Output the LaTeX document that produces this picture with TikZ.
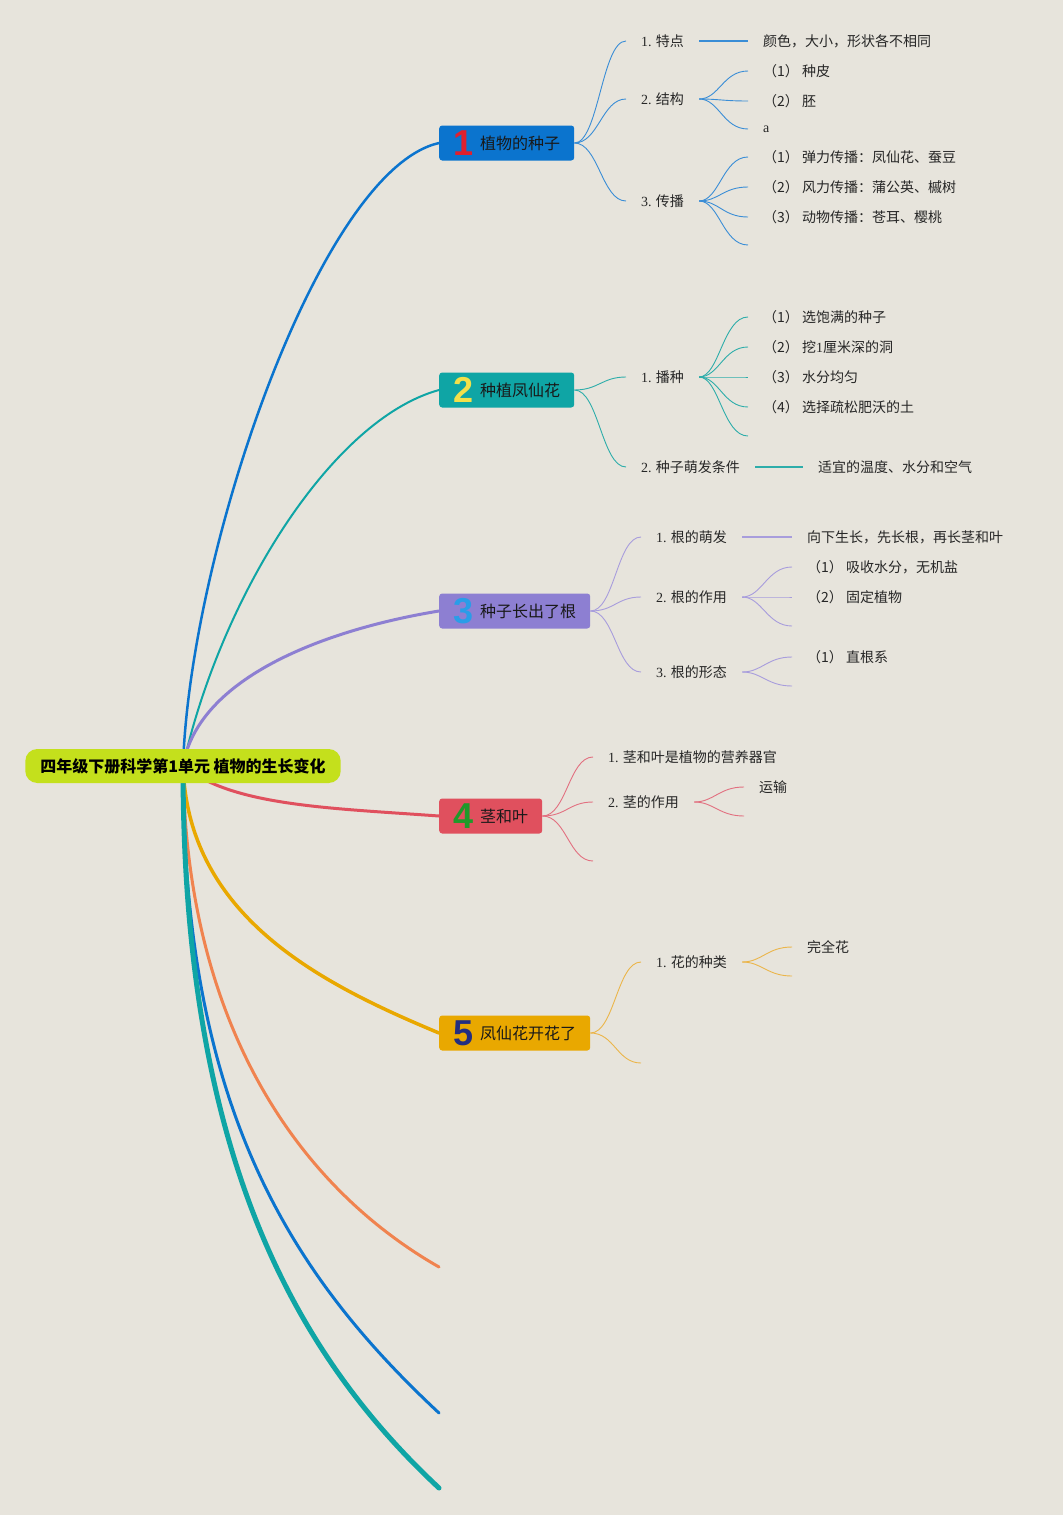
\documentclass[tikz,border=0pt]{standalone}
\usepackage{fontspec}
\setmainfont{Liberation Serif}
\newfontfamily\cjk{Noto Sans CJK SC}
\newfontfamily\numfont{Liberation Sans}
\usetikzlibrary{positioning}

\definecolor{bgc}{HTML}{E7E4DC}
\definecolor{rootc}{HTML}{C4E01C}
\definecolor{c1}{HTML}{0B74CE}
\definecolor{c2}{HTML}{0FA5A5}
\definecolor{c3}{HTML}{8D7FD2}
\definecolor{c4}{HTML}{E0505E}
\definecolor{c5}{HTML}{E9A800}
\definecolor{c6}{HTML}{F0834F}
\definecolor{t1}{HTML}{3A8DD6}
\definecolor{t2}{HTML}{2EADAA}
\definecolor{t3}{HTML}{A89DDC}
\definecolor{t4}{HTML}{E27080}
\definecolor{t5}{HTML}{EBB54A}
\definecolor{n1}{HTML}{E0202E}
\definecolor{n2}{HTML}{F3E04A}
\definecolor{n3}{HTML}{2A9DE8}
\definecolor{n4}{HTML}{1F9A2A}
\definecolor{n5}{HTML}{232E80}

\newcommand{\bignum}[2]{\raisebox{-6pt}{\numfont\bfseries\fontsize{36}{36}\selectfont\color{#1}#2}\hspace{7pt}}

\begin{document}
\begin{tikzpicture}[x=1pt,y=-1pt,
  topic/.style={fill=#1, rounded corners=3pt, inner xsep=14pt, inner ysep=0pt,
    minimum height=35pt, anchor=west, text=black!90, font=\cjk\fontsize{16}{18}\selectfont},
  sub/.style={inner xsep=15pt, inner ysep=2pt, anchor=west, text=black!85,
    font=\cjk\fontsize{14}{16}\selectfont},
  mainline/.style={line width=#1, line cap=round},
  twig/.style={line width=0.9pt},
  bar/.style={line width=1.4pt}]

% background and page size
\fill[bgc] (0,0) rectangle (1063,1515);
\useasboundingbox (0,0) rectangle (1063,1515);

\coordinate (o) at (183,766);

% topics
\node[topic=c1] (h1) at (439,143) {\bignum{n1}{1}植物的种子};
\node[topic=c2] (h2) at (439,390) {\bignum{n2}{2}种植凤仙花};
\node[topic=c3] (h3) at (439,611) {\bignum{n3}{3}种子长出了根};
\node[topic=c4] (h4) at (439,816) {\bignum{n4}{4}茎和叶};
\node[topic=c5] (h5) at (439,1033) {\bignum{n5}{5}凤仙花开花了};
\coordinate (e6) at (439,1267);
\coordinate (e7) at (439,1413);
\coordinate (e8) at (439,1488);

% main branches
\draw[mainline=2.5pt, c1] (o) .. controls +(7,-216) and +(-119,27) .. (h1.west);
\draw[mainline=2pt, c2] (o) .. controls +(37,-166) and +(-109,30) .. (h2.west);
\draw[mainline=3pt, c3] (o) .. controls +(15,-90) and +(-110,18) .. (h3.west);
\draw[mainline=3pt, c4] (o) .. controls +(50,40) and +(-110,-8) .. (h4.west);
\draw[mainline=3.5pt, c5] (o) .. controls +(5,150) and +(-120,-50) .. (h5.west);
\draw[mainline=3pt, c6] (o) .. controls +(3,260) and +(-140,-80) .. (e6);
\draw[mainline=3pt, c1] (o) .. controls +(0,340) and +(-150,-140) .. (e7);
\draw[mainline=5pt, c2] (o) .. controls +(0,380) and +(-150,-140) .. (e8);

\node[fill=rootc, rounded corners=12pt, minimum height=34pt, inner xsep=15pt,
  font=\cjk\bfseries\fontsize{16}{18}\selectfont] (root) at (o) {四年级下册科学第1单元 植物的生长变化};

% 1 植物的种子
\node[sub] (s11) at (626,41) {{\rmfamily 1.} 特点};
\node[sub] (s12) at (626,99) {{\rmfamily 2.} 结构};
\node[sub] (s13) at (626,201) {{\rmfamily 3.} 传播};
\node[sub] (l111) at (748,41) {颜色，大小，形状各不相同};
\node[sub] (l121) at (748,71) {（1） 种皮};
\node[sub] (l122) at (748,101) {（2） 胚};
\node[sub] (l123) at (748,129) {\rmfamily a};
\node[sub] (l131) at (748,157) {（1） 弹力传播：凤仙花、蚕豆};
\node[sub] (l132) at (748,187) {（2） 风力传播：蒲公英、槭树};
\node[sub] (l133) at (748,217) {（3） 动物传播：苍耳、樱桃};
\coordinate (l134) at (748,245);
\foreach \s in {s11,s12,s13}
  \draw[twig, t1] (h1.east) .. controls +(24,0) and +(-24,0) .. (\s.west);
\draw[bar, t1] (s11.east) -- (l111.west);
\foreach \l in {l121,l122,l123}
  \draw[twig, t1] (s12.east) .. controls +(20,0) and +(-25,0) .. (\l.west);
\foreach \l in {l131,l132,l133}
  \draw[twig, t1] (s13.east) .. controls +(20,0) and +(-25,0) .. (\l.west);
\draw[twig, t1] (s13.east) .. controls +(20,0) and +(-25,0) .. (l134);

% 2 种植凤仙花
\node[sub] (s21) at (626,377) {{\rmfamily 1.} 播种};
\node[sub] (s22) at (626,467) {{\rmfamily 2.} 种子萌发条件};
\node[sub] (l211) at (748,317) {（1） 选饱满的种子};
\node[sub] (l212) at (748,347) {（2） 挖{\rmfamily 1}厘米深的洞};
\node[sub] (l213) at (748,377) {（3） 水分均匀};
\node[sub] (l214) at (748,407) {（4） 选择疏松肥沃的土};
\coordinate (l215) at (748,436);
\node[sub] (l221) at (803,467) {适宜的温度、水分和空气};
\foreach \s in {s21,s22}
  \draw[twig, t2] (h2.east) .. controls +(24,0) and +(-24,0) .. (\s.west);
\foreach \l in {l211,l212,l213,l214}
  \draw[twig, t2] (s21.east) .. controls +(20,0) and +(-25,0) .. (\l.west);
\draw[twig, t2] (s21.east) .. controls +(20,0) and +(-25,0) .. (l215);
\draw[bar, t2] (s22.east) -- (l221.west);

% 3 种子长出了根
\node[sub] (s31) at (641,537) {{\rmfamily 1.} 根的萌发};
\node[sub] (s32) at (641,597) {{\rmfamily 2.} 根的作用};
\node[sub] (s33) at (641,672) {{\rmfamily 3.} 根的形态};
\node[sub] (l311) at (792,537) {向下生长，先长根，再长茎和叶};
\node[sub] (l321) at (792,567) {（1） 吸收水分，无机盐};
\node[sub] (l322) at (792,597) {（2） 固定植物};
\coordinate (l323) at (792,626);
\node[sub] (l331) at (792,657) {（1） 直根系};
\coordinate (l332) at (792,686);
\foreach \s in {s31,s32,s33}
  \draw[twig, t3] (h3.east) .. controls +(24,0) and +(-24,0) .. (\s.west);
\draw[bar, t3] (s31.east) -- (l311.west);
\foreach \l in {l321,l322}
  \draw[twig, t3] (s32.east) .. controls +(20,0) and +(-25,0) .. (\l.west);
\draw[twig, t3] (s32.east) .. controls +(20,0) and +(-25,0) .. (l323);
\draw[twig, t3] (s33.east) .. controls +(20,0) and +(-25,0) .. (l331.west);
\draw[twig, t3] (s33.east) .. controls +(20,0) and +(-25,0) .. (l332);

% 4 茎和叶
\node[sub] (s41) at (593,757) {{\rmfamily 1.} 茎和叶是植物的营养器官};
\node[sub] (s42) at (593,802) {{\rmfamily 2.} 茎的作用};
\coordinate (s43) at (593,861);
\node[sub] (l421) at (744,787) {运输};
\coordinate (l422) at (744,816);
\foreach \s in {s41,s42}
  \draw[twig, t4] (h4.east) .. controls +(24,0) and +(-24,0) .. (\s.west);
\draw[twig, t4] (h4.east) .. controls +(24,0) and +(-24,0) .. (s43);
\draw[twig, t4] (s42.east) .. controls +(20,0) and +(-25,0) .. (l421.west);
\draw[twig, t4] (s42.east) .. controls +(20,0) and +(-25,0) .. (l422);

% 5 凤仙花开花了
\node[sub] (s51) at (641,962) {{\rmfamily 1.} 花的种类};
\coordinate (s52) at (641,1063);
\node[sub] (l511) at (792,947) {完全花};
\coordinate (l512) at (792,976);
\draw[twig, t5] (h5.east) .. controls +(24,0) and +(-24,0) .. (s51.west);
\draw[twig, t5] (h5.east) .. controls +(24,0) and +(-24,0) .. (s52);
\draw[twig, t5] (s51.east) .. controls +(20,0) and +(-25,0) .. (l511.west);
\draw[twig, t5] (s51.east) .. controls +(20,0) and +(-25,0) .. (l512);
\end{tikzpicture}
\end{document}
